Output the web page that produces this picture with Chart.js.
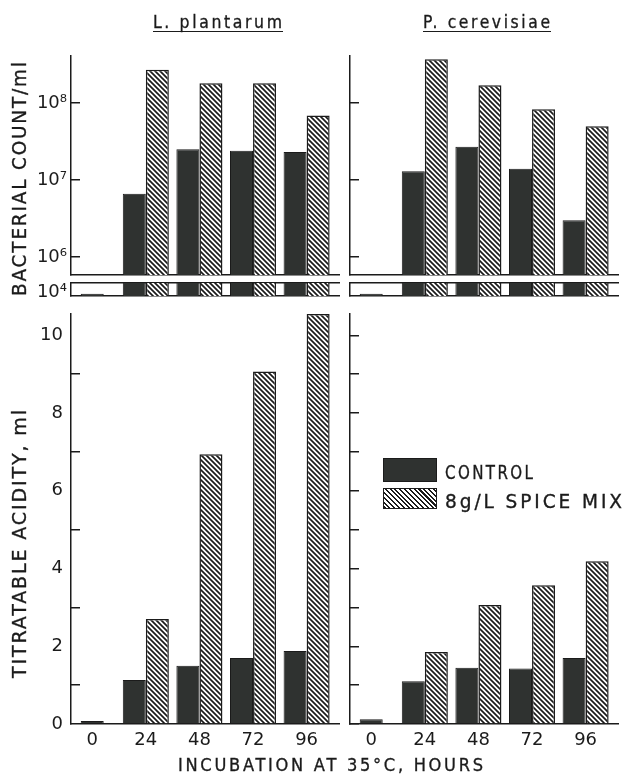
<!DOCTYPE html>
<html>
<head>
<meta charset="utf-8">
<script src="https://cdn.jsdelivr.net/npm/chart.js@4.4.1/dist/chart.umd.min.js"></script>
<style>
  html, body { margin:0; padding:0; background:#fff; width:623px; height:776px; overflow:hidden; }
  canvas { position:absolute; }
  .lbl { position:absolute; white-space:nowrap; line-height:1; font-family:"DejaVu Sans", sans-serif; color:#1b1b1b; -webkit-text-stroke:0.35px #1b1b1b; }
  .rule { position:absolute; height:0; border-top:1.6px solid #1b1b1b; }
  .key { position:absolute; box-sizing:border-box; border:1.5px solid #1b1b1b; }
</style>
</head>
<body>
<canvas id="lpCount" width="340" height="279" style="left:0;top:26px"></canvas>
<canvas id="lpStrip" width="340" height="73" style="left:0;top:253px"></canvas>
<canvas id="lpAcid" width="340" height="480" style="left:0;top:284px"></canvas>
<canvas id="pcCount" width="323" height="279" style="left:300px;top:26px"></canvas>
<canvas id="pcStrip" width="323" height="73" style="left:300px;top:253px"></canvas>
<canvas id="pcAcid" width="323" height="480" style="left:300px;top:284px"></canvas>
<div class="rule" style="left:153px;top:31px;width:130px"></div>
<div class="rule" style="left:423px;top:31px;width:128px"></div>
<div class="key" style="left:383px;top:458px;width:54px;height:24px;background:#2f3230"></div>
<div class="key" style="left:383px;top:488px;width:54px;height:21px;background:repeating-linear-gradient(45deg,#1b1b1b 0 1.5px,#fff 1.5px 3.4px)"></div>
<script>
/* ------------------ data ------------------ */
const hours = [0, 24, 48, 72, 96];
const hourLabels = ['0', '24', '48', '72', '96'];

// bacterial count / ml
const lpCountControl = [1.5e4, 6.6e6, 2.5e7, 2.4e7, 2.3e7];
const lpCountSpice   = [null, 2.7e8, 1.8e8, 1.8e8, 6.9e7];
const pcCountControl = [1.5e4, 1.3e7, 2.7e7, 1.4e7, 3.0e6];
const pcCountSpice   = [null, 3.7e8, 1.7e8, 8.3e7, 5.0e7];

// titratable acidity, ml
const lpAcidControl = [0.08, 1.13, 1.5, 1.7, 1.88];
const lpAcidSpice   = [null, 2.7, 6.94, 9.07, 10.55];
const pcAcidControl = [0.12, 1.1, 1.45, 1.43, 1.7];
const pcAcidSpice   = [null, 1.85, 3.06, 3.57, 4.19];

const countTicks = [1e6, 1e7, 1e8];
const countTickLabels = ['10\u2076', '10\u2077', '10\u2078'];
const stripTicks = [1e4];
const stripTickLabels = ['10\u2074'];
const acidTicks = [0, 1, 2, 3, 4, 5, 6, 7, 8, 9, 10];
const acidTickLabels = ['0', '', '2', '', '4', '', '6', '', '8', '', '10'];

/* ------------------ styles ------------------ */
const INK = '#1b1b1b';
const DARK = '#2f3230';
Chart.defaults.font.family = '"DejaVu Sans", sans-serif';
Chart.defaults.font.size = 18;
Chart.defaults.color = INK;

function hatch() {
  const c = document.createElement('canvas');
  c.width = 5; c.height = 5;
  const g = c.getContext('2d');
  g.fillStyle = '#fff'; g.fillRect(0, 0, 5, 5);
  g.strokeStyle = INK; g.lineWidth = 1.7;
  g.beginPath();
  for (const k of [-1, 0, 1]) { g.moveTo(k * 5 - 1, -1); g.lineTo(k * 5 + 6, 6); }
  g.stroke();
  return g.createPattern(c, 'repeat');
}
const HATCH = hatch();

function bars(ctrl, spice) {
  const common = { skipNull: true, categoryPercentage: 0.86, barPercentage: 1, maxBarThickness: 23, clip: 0, borderColor: INK, borderSkipped: 'start' };
  return [
    Object.assign({ label: 'CONTROL', data: ctrl, backgroundColor: DARK, borderWidth: 1 }, common),
    Object.assign({ label: '8g/L SPICE MIX', data: spice, backgroundColor: HATCH, borderWidth: 1.5 }, common)
  ];
}

function xAxis(pos, showLabels) {
  return {
    type: 'linear', position: pos, min: -9.5, max: 110.5, offset: false,
    grid: { display: false, drawTicks: false, offset: false },
    border: { display: true, color: INK, width: 1.5 },
    ticks: { display: showLabels, padding: 6, maxRotation: 0, autoSkip: false, callback: (v, i) => hourLabels[i] },
    afterBuildTicks: s => { s.ticks = hours.map(v => ({ value: v })); },
    afterFit: s => { s.height = showLabels ? 30 : 0; }
  };
}

function yAxis(o) {
  return {
    type: o.type, min: o.min, max: o.max,
    grid: { display: true, drawOnChartArea: false, drawTicks: true, tickLength: -9, lineWidth: 1.5, color: INK, tickColor: o.tickColor || INK },
    border: { display: true, color: INK, width: 1.5 },
    ticks: { display: o.showLabels, padding: o.pad, labelOffset: o.labelOffset || 0, callback: (v, i) => o.labels[i] },
    afterBuildTicks: s => { s.ticks = o.ticks.map(v => ({ value: v })); },
    afterFit: s => { s.width = o.width; }
  };
}

function makeChart(id, datasets, scales, padBottom, padRight) {
  return new Chart(document.getElementById(id), {
    type: 'bar',
    data: { labels: hours, datasets: datasets },
    options: {
      responsive: false, animation: false,
      layout: { padding: { top: 30, bottom: padBottom, left: 0, right: padRight } },
      plugins: { legend: { display: false }, tooltip: { enabled: false } },
      scales: scales
    }
  });
}

/* ------------------ panels ------------------ */
const countMin = Math.pow(10, 5.766), countMax = Math.pow(10, 8.61);
const oddOnly = c => (c.tick && c.tick.value % 2 === 1) ? INK : 'rgba(0,0,0,0)';
const none = 'rgba(0,0,0,0)';

const columns = [
  { key: 'lp', ctrl: lpCountControl, spice: lpCountSpice, actrl: lpAcidControl, aspice: lpAcidSpice, width: 71, right: 1, labels: true, acidTickColor: oddOnly },
  { key: 'pc', ctrl: pcCountControl, spice: pcCountSpice, actrl: pcAcidControl, aspice: pcAcidSpice, width: 50, right: 5, labels: false, acidTickColor: INK }
];

columns.forEach(col => {
  makeChart(col.key + 'Count', bars(col.ctrl, col.spice), {
    x: xAxis('bottom', false),
    y: yAxis({ type: 'logarithmic', min: countMin, max: countMax, ticks: countTicks, labels: countTickLabels, showLabels: col.labels, pad: 13, width: col.width })
  }, 30, col.right);

  makeChart(col.key + 'Strip', bars(col.ctrl, col.spice), {
    x: xAxis('bottom', false),
    x2: xAxis('top', false),
    y: yAxis({ type: 'logarithmic', min: 1e4, max: 1e5, ticks: stripTicks, labels: stripTickLabels, showLabels: col.labels, pad: 13, width: col.width, tickColor: none, labelOffset: -4 })
  }, 30, col.right);

  makeChart(col.key + 'Acid', bars(col.actrl, col.aspice), {
    x: xAxis('bottom', true),
    y: yAxis({ type: 'linear', min: 0, max: 10.55, ticks: acidTicks, labels: acidTickLabels, showLabels: col.labels, pad: 17, width: col.width, tickColor: col.acidTickColor })
  }, 10, col.right);
});

/* ------------------ text ------------------ */
function putText(txt, x, y, width, size, spacing, vertical) {
  const el = document.createElement('div');
  el.className = 'lbl';
  el.textContent = txt;
  el.style.fontSize = size + 'px';
  el.style.letterSpacing = spacing + 'px';
  document.body.appendChild(el);
  const w = el.getBoundingClientRect().width - spacing;
  const sx = width / w;
  if (!vertical) {
    el.style.left = x + 'px';
    el.style.top = (y - 0.117 * size) + 'px';
    el.style.transformOrigin = '0 0';
    el.style.transform = 'scaleX(' + sx + ')';
  } else {
    // x, y = centre of the rotated text
    el.style.left = (x - w / 2) + 'px';
    el.style.top = (y - size / 2) + 'px';
    el.style.transformOrigin = (w / 2) + 'px 50%';
    el.style.transform = 'rotate(-90deg) scaleX(' + sx + ')';
  }
}

putText('L. plantarum', 153, 15, 129, 18, 3);
putText('P. cerevisiae', 423, 15, 127, 18, 3);
putText('BACTERIAL COUNT/ml', 19.5, 179, 234, 20, 2, true);
putText('TITRATABLE ACIDITY, ml', 19.5, 544, 268, 20, 2, true);
putText('INCUBATION AT 35\u00b0C, HOURS', 178, 758, 305, 18, 3);
putText('CONTROL', 445, 465, 88, 19, 3);
putText('8g/L SPICE MIX', 445, 494, 177, 19, 3);
</script>
</body>
</html>
